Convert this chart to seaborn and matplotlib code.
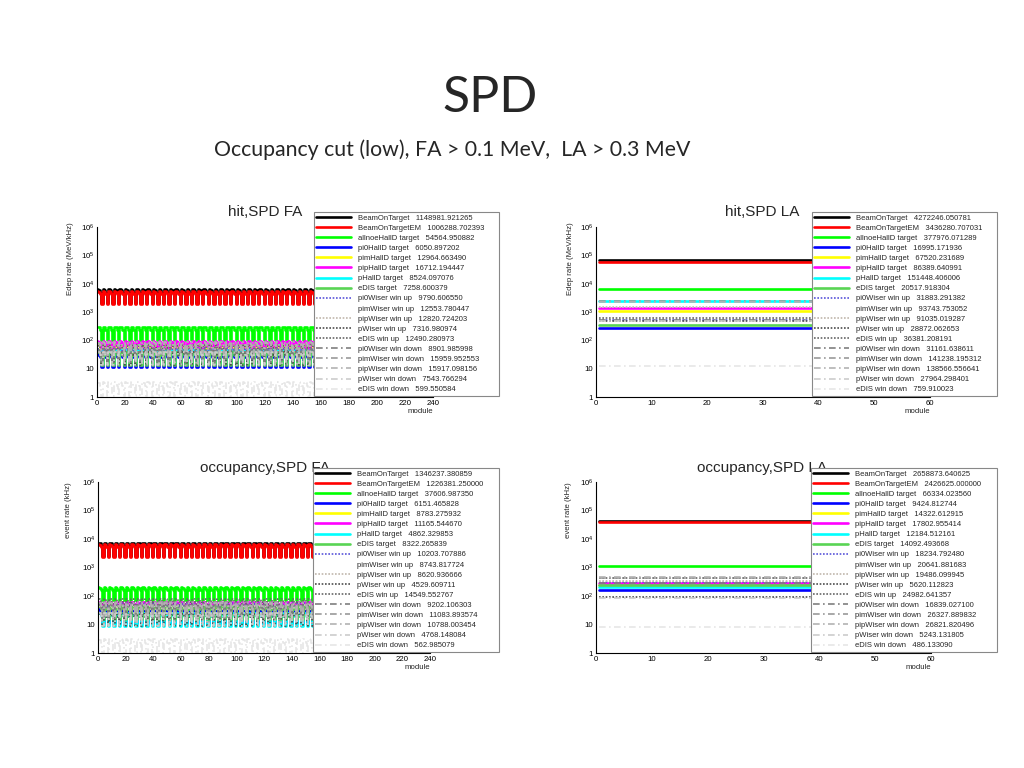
import numpy as np
import seaborn as sns
import matplotlib.pyplot as plt
from matplotlib.ticker import FixedLocator, FixedFormatter, MultipleLocator, AutoMinorLocator, LogLocator, NullFormatter

sns.set_style("white")
plt.rcParams['font.family'] = ['Liberation Sans', 'DejaVu Sans']
plt.rcParams['mathtext.fontset'] = 'custom'
plt.rcParams['mathtext.rm'] = 'Liberation Sans'
plt.rcParams['mathtext.it'] = 'Liberation Sans:italic'

# series, in the order ROOT drew them
SERIES = ["BeamOnTarget", "BeamOnTargetEM", "allnoeHallD target", "pi0HallD target",
          "pimHallD target", "pipHallD target", "pHallD target", "eDIS target",
          "pi0Wiser win up", "pimWiser win up", "pipWiser win up", "pWiser win up",
          "eDIS win up", "pi0Wiser win down", "pimWiser win down", "pipWiser win down",
          "pWiser win down", "eDIS win down"]
COLORS = ["#000000", "#ff0000", "#00ff00", "#0000ff", "#ffff00", "#ff00ff", "#00ffff", "#59d454",
          "#5954d9", "#ffffff", "#c0b6ac", "#4d4d4d", "#666666",
          "#7f7f7f", "#999999", "#b3b3b3", "#cccccc", "#e6e6e6"]

# legend totals
HIT_FA_TOTAL = ["1148981.921265", "1006288.702393", "54564.950882", "6050.897202", "12964.663490",
                "16712.194447", "8524.097076", "7258.600379", "9790.606550", "12553.780447",
                "12820.724203", "7316.980974", "12490.280973", "8901.985998", "15959.952553",
                "15917.098156", "7543.766294", "599.550584"]
HIT_LA_TOTAL = ["4272246.050781", "3436280.707031", "377976.071289", "16995.171936", "67520.231689",
                "86389.640991", "151448.406006", "20517.918304", "31883.291382", "93743.753052",
                "91035.019287", "28872.062653", "36381.208191", "31161.638611", "141238.195312",
                "138566.556641", "27964.298401", "759.910023"]
OCC_FA_TOTAL = ["1346237.380859", "1226381.250000", "37606.987350", "6151.465828", "8783.275932",
                "11165.544670", "4862.329853", "8322.265839", "10203.707886", "8743.817724",
                "8620.936666", "4529.609711", "14549.552767", "9202.106303", "11083.893574",
                "10788.003454", "4768.148084", "562.985079"]
OCC_LA_TOTAL = ["2658873.640625", "2426625.000000", "66334.023560", "9424.812744", "14322.612915",
                "17802.955414", "12184.512161", "14092.493668", "18234.792480", "20641.881683",
                "19486.099945", "5620.112823", "24982.641357", "16839.027100", "26327.889832",
                "26821.820496", "5243.131805", "486.133090"]

# typical per-module level
HIT_FA_LEVEL = [4800, 4200, 230, 25, 54, 70, 36, 30, 41, 52, 53, 30, 52, 37, 66, 66, 31, 2.5]
HIT_LA_LEVEL = [71000, 57000, 6300, 283, 1125, 1440, 2520, 342, 531, 1560, 1520, 481, 606, 519, 2350, 2310, 466, 12.7]
OCC_FA_LEVEL = [5600, 5100, 157, 26, 37, 47, 20, 35, 43, 36, 36, 19, 61, 38, 46, 45, 20, 2.3]
OCC_LA_LEVEL = [44000, 40000, 1100, 157, 239, 297, 203, 235, 304, 344, 325, 94, 416, 281, 439, 447, 87, 8.1]

# repeating module pattern seen in FA (relative), LA is flat
FA_SHAPE = [1.3, 1.25, 1.0, 0.45]
LA_SHAPE = [1.0]

YTICKS = [1, 10, 100, 1e3, 1e4, 1e5, 1e6]
YTICKLABELS = ["1", "10", "$10^{2}$", "$10^{3}$", "$10^{4}$", "$10^{5}$", "$10^{6}$"]

W, H = 1024, 768
fig = plt.figure(figsize=(10.24, 7.68), dpi=100)


def fx(px):
    return px / W


def fy(py):
    return 1 - py / H


def panel(box, title, title_xy, ylabel, ylab_xy, leg_box, n_mod, xstep, levels, totals, shape):
    x0, y0, x1, y1 = box
    ax = fig.add_axes([fx(x0), fy(y1), fx(x1 - x0), (y1 - y0) / H])
    ax.patch.set_visible(False)
    modules = np.arange(n_mod) + 0.5
    pattern = np.tile(shape, n_mod // len(shape))
    for i, name in enumerate(SERIES):
        if i < 8:
            ls, lw = "-", 1.9
        elif i < 13:
            ls, lw = (0, (1, 1)), 1.2
        else:
            ls, lw = (0, (4, 2, 1, 2)), 1.2
        sns.lineplot(x=modules, y=levels[i] * pattern, ax=ax, color=COLORS[i], linewidth=lw,
                     linestyle=ls, drawstyle="steps-mid", errorbar=None, legend=False)
    ax.set_yscale("log")
    ax.set_ylim(1, 1e6)
    ax.set_xlim(0, n_mod)
    ax.yaxis.set_major_locator(FixedLocator(YTICKS))
    ax.yaxis.set_major_formatter(FixedFormatter(YTICKLABELS))
    ax.yaxis.set_minor_locator(LogLocator(base=10, subs=np.arange(2, 10), numticks=20))
    ax.yaxis.set_minor_formatter(NullFormatter())
    ax.xaxis.set_major_locator(MultipleLocator(xstep))
    ax.xaxis.set_minor_locator(AutoMinorLocator(5))
    for s in ["top", "right"]:
        ax.spines[s].set_visible(False)
    for s in ["left", "bottom"]:
        ax.spines[s].set_color("black")
        ax.spines[s].set_linewidth(0.8)
    ax.tick_params(which="both", direction="in", colors="black", labelsize=5.6, pad=2)
    ax.tick_params(which="major", length=5, width=0.6)
    ax.tick_params(which="minor", length=2.5, width=0.5)
    ax.set_xlabel("module", loc="right", fontsize=5.6, labelpad=1)
    ax.set_ylabel("")
    fig.text(fx(ylab_xy[0]), fy(ylab_xy[1]), ylabel, rotation=90, ha="center", va="top", fontsize=5.6)
    fig.text(fx(title_xy[0]), fy(title_xy[1]), title, ha="center", va="center", fontsize=11, zorder=-1)

    labels = [f"{n}   {t}" for n, t in zip(SERIES, totals)]
    lx0, ly0, lx1, ly1 = leg_box
    leg = ax.legend(ax.get_lines()[:len(SERIES)], labels, loc="upper left",
                    bbox_to_anchor=(fx(lx0), fy(ly1), fx(lx1 - lx0), (ly1 - ly0) / H),
                    bbox_transform=fig.transFigure, mode="expand", fontsize=5.5,
                    handlelength=4.6, handletextpad=0.9, labelspacing=0.36, borderpad=0.3,
                    borderaxespad=0, frameon=True, fancybox=False, framealpha=1,
                    edgecolor="#888888")
    leg.get_frame().set_linewidth(0.8)
    leg.set_zorder(10)
    return ax


panel((97, 227, 433, 397), "hit,SPD FA", (265, 212), "Edep rate (MeV/kHz)", (70, 222),
      (314, 212, 499, 390), 240, 20, HIT_FA_LEVEL, HIT_FA_TOTAL, FA_SHAPE)
panel((596, 227, 930, 397), "hit,SPD LA", (762, 212), "Edep rate (MeV/kHz)", (570, 222),
      (812, 212, 997, 390), 60, 10, HIT_LA_LEVEL, HIT_LA_TOTAL, LA_SHAPE)
panel((98, 482, 430, 653), "occupancy,SPD FA", (265, 468), "event rate (kHz)", (69, 482),
      (313, 468, 499, 646), 240, 20, OCC_FA_LEVEL, OCC_FA_TOTAL, FA_SHAPE)
panel((596, 482, 931, 653), "occupancy,SPD LA", (762, 468), "event rate (kHz)", (568, 482),
      (811, 468, 997, 646), 60, 10, OCC_LA_LEVEL, OCC_LA_TOTAL, LA_SHAPE)

fig.text(fx(490), fy(98), "SPD", ha="center", va="center", fontsize=36, family=["Lato", "DejaVu Sans"])
fig.text(fx(214), fy(150), "Occupancy cut (low), FA > 0.1 MeV,  LA > 0.3 MeV", ha="left", va="center",
         fontsize=15.3, family=["Lato", "DejaVu Sans"])

fig.savefig("out.png", dpi=100)
plt.close(fig)
